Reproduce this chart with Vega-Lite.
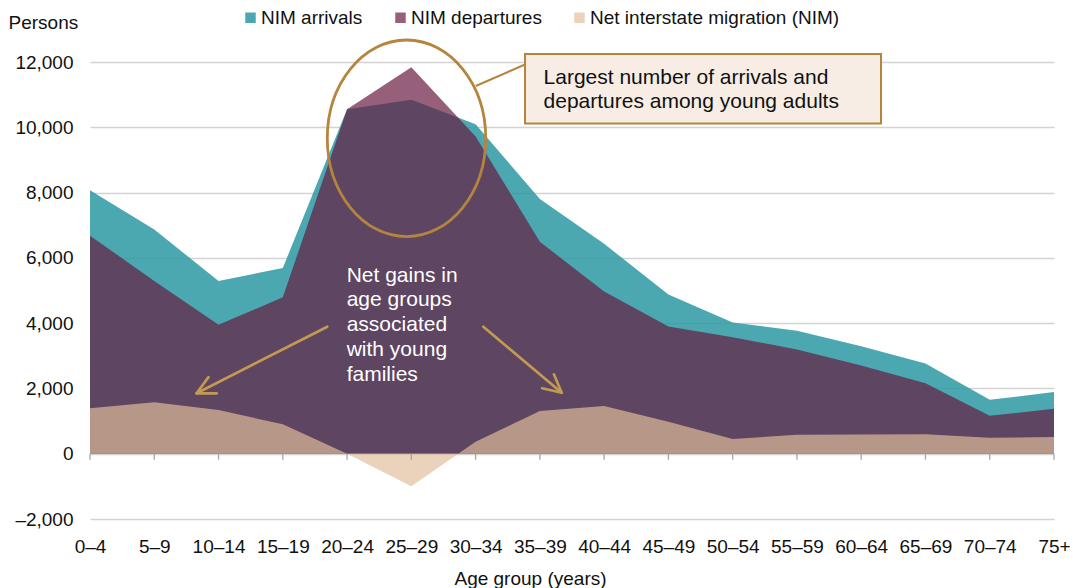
{
  "$schema": "https://vega.github.io/schema/vega-lite/v6.json",
  "width": 964,
  "height": 457,
  "autosize": {"type": "none"},
  "padding": {"left": 90, "top": 62, "right": 19, "bottom": 69},
  "config": {
    "font": "Liberation Sans",
    "view": {"stroke": null},
    "axis": {"labelColor": "#111111", "titleColor": "#111111", "titleFontWeight": "normal"}
  },
  "datasets": {
    "nim": [
      {"i": 0, "age": "0–4", "arrivals": 8070, "departures": 6680, "net": 1390},
      {"i": 1, "age": "5–9", "arrivals": 6870, "departures": 5290, "net": 1580},
      {"i": 2, "age": "10–14", "arrivals": 5290, "departures": 3950, "net": 1340},
      {"i": 3, "age": "15–19", "arrivals": 5690, "departures": 4790, "net": 900},
      {"i": 4, "age": "20–24", "arrivals": 10550, "departures": 10550, "net": 0},
      {"i": 5, "age": "25–29", "arrivals": 10840, "departures": 11840, "net": -1000},
      {"i": 6, "age": "30–34", "arrivals": 10090, "departures": 9720, "net": 370},
      {"i": 7, "age": "35–39", "arrivals": 7800, "departures": 6490, "net": 1310},
      {"i": 8, "age": "40–44", "arrivals": 6430, "departures": 4970, "net": 1460},
      {"i": 9, "age": "45–49", "arrivals": 4880, "departures": 3900, "net": 980},
      {"i": 10, "age": "50–54", "arrivals": 4020, "departures": 3570, "net": 450},
      {"i": 11, "age": "55–59", "arrivals": 3770, "departures": 3190, "net": 580},
      {"i": 12, "age": "60–64", "arrivals": 3290, "departures": 2700, "net": 590},
      {"i": 13, "age": "65–69", "arrivals": 2760, "departures": 2160, "net": 600},
      {"i": 14, "age": "70–74", "arrivals": 1650, "departures": 1160, "net": 490},
      {"i": 15, "age": "75+", "arrivals": 1890, "departures": 1380, "net": 510}
    ],
    "ellipse": [{"x": 4.925, "y": 9663}],
    "callout": [{"x": 6.769, "y": 12245, "x2": 12.308, "y2": 10116}],
    "calloutText": [{"x": 7.057, "y": 11326, "lines": ["Largest number of arrivals and", "departures among young adults"]}],
    "leader": [{"x": 6.002, "y": 11265, "x2": 6.769, "y2": 11923}],
    "arrows": [
      {"x": 3.692, "y": 3891, "x2": 1.66, "y2": 1851},
      {"x": 1.66, "y": 1851, "x2": 1.844, "y2": 2347},
      {"x": 1.66, "y": 1851, "x2": 1.972, "y2": 1851},
      {"x": 6.12, "y": 3891, "x2": 7.34, "y2": 1869},
      {"x": 7.34, "y": 1869, "x2": 7.036, "y2": 2007},
      {"x": 7.34, "y": 1869, "x2": 7.218, "y2": 2433}
    ],
    "note": [{"x": 3.994, "y": 5269, "lines": ["Net gains in", "age groups", "associated", "with young", "families"]}]
  },
  "layer": [
    {
      "data": {"name": "nim"},
      "mark": {"type": "area"},
      "encoding": {
        "x": {
          "field": "i", "type": "quantitative",
          "scale": {"domain": [0, 15], "nice": false, "zero": false},
          "axis": {
            "title": "Age group (years)",
            "values": [0, 1, 2, 3, 4, 5, 6, 7, 8, 9, 10, 11, 12, 13, 14, 15],
            "labelExpr": "['0–4','5–9','10–14','15–19','20–24','25–29','30–34','35–39','40–44','45–49','50–54','55–59','60–64','65–69','70–74','75+'][datum.value]",
            "labelAngle": 0, "domain": false, "ticks": false, "grid": false,
            "labelFontSize": 19, "labelPadding": 18, "labelOverlap": false, "labelBound": false, "labelFlush": false,
            "titleFontSize": 19, "titleX": 440, "titleY": 59, "titleBaseline": "middle", "titleAlign": "center"
          }
        },
        "y": {
          "field": "arrivals", "type": "quantitative",
          "scale": {"domain": [-2000, 12000], "nice": false},
          "axis": {
            "title": "Persons", "titleAngle": 0, "titleAlign": "left", "titleBaseline": "middle",
            "titleX": -82, "titleY": -40, "titleFontSize": 19,
            "values": [-2000, 0, 2000, 4000, 6000, 8000, 10000, 12000],
            "labelExpr": "datum.value < 0 ? '–' + format(-datum.value, ',') : format(datum.value, ',')",
            "domain": false, "ticks": false, "labelFontSize": 19, "labelPadding": 17,
            "grid": true, "gridColor": "#D3D3D3", "gridWidth": 1.3
          }
        },
        "y2": {"datum": 0},
        "color": {
          "datum": "NIM arrivals", "type": "nominal",
          "scale": {
            "domain": ["NIM arrivals", "NIM departures", "Net interstate migration (NIM)"],
            "range": ["rgba(43,153,162,0.85)", "rgba(103,25,63,0.69)", "rgba(225,190,155,0.68)"]
          },
          "legend": {
            "orient": "none", "legendX": 151, "legendY": -54, "direction": "horizontal", "title": null,
            "padding": 0, "symbolType": "square", "symbolSize": 110, "symbolStrokeWidth": 0,
            "labelFontSize": 19, "labelOffset": 1, "columnPadding": 28, "labelColor": "#111111", "labelLimit": 0
          }
        }
      }
    },
    {
      "data": {"name": "nim"},
      "mark": {"type": "area"},
      "encoding": {
        "x": {"field": "i", "type": "quantitative"},
        "y": {"field": "departures", "type": "quantitative"},
        "y2": {"datum": 0},
        "color": {"datum": "NIM departures", "type": "nominal"}
      }
    },
    {
      "data": {"name": "nim"},
      "mark": {"type": "area"},
      "encoding": {
        "x": {"field": "i", "type": "quantitative"},
        "y": {"field": "net", "type": "quantitative"},
        "y2": {"datum": 0},
        "color": {"datum": "Net interstate migration (NIM)", "type": "nominal"}
      }
    },
    {
      "mark": {"type": "rule", "color": "#A6A6A6", "strokeWidth": 1.5},
      "encoding": {"y": {"datum": 0, "type": "quantitative"}}
    },
    {
      "data": {"name": "nim"},
      "mark": {"type": "tick", "orient": "vertical", "color": "#A6A6A6", "size": 6, "thickness": 1.3, "yOffset": 3, "opacity": 1},
      "encoding": {
        "x": {"field": "i", "type": "quantitative"},
        "y": {"datum": 0, "type": "quantitative"}
      }
    },
    {
      "data": {"name": "ellipse"},
      "mark": {
        "type": "point", "filled": false, "opacity": 1,
        "shape": "M 0 -1 C 0.445 -1 0.806 -0.552 0.806 0 C 0.806 0.552 0.445 1 0 1 C -0.445 1 -0.806 0.552 -0.806 0 C -0.806 -0.552 -0.445 -1 0 -1 Z",
        "size": 38652, "stroke": "#B5853E", "strokeWidth": 2.8
      },
      "encoding": {
        "x": {"field": "x", "type": "quantitative"},
        "y": {"field": "y", "type": "quantitative"}
      }
    },
    {
      "data": {"name": "leader"},
      "mark": {"type": "rule", "color": "#B5853E", "strokeWidth": 2},
      "encoding": {
        "x": {"field": "x", "type": "quantitative"},
        "y": {"field": "y", "type": "quantitative"},
        "x2": {"field": "x2"},
        "y2": {"field": "y2"}
      }
    },
    {
      "data": {"name": "callout"},
      "mark": {"type": "rect", "fill": "#F7EDE4", "stroke": "#B5853E", "strokeWidth": 2},
      "encoding": {
        "x": {"field": "x", "type": "quantitative"},
        "y": {"field": "y", "type": "quantitative"},
        "x2": {"field": "x2"},
        "y2": {"field": "y2"}
      }
    },
    {
      "data": {"name": "calloutText"},
      "mark": {"type": "text", "align": "left", "baseline": "alphabetic", "fontSize": 21, "lineHeight": 24, "color": "#111111"},
      "encoding": {
        "x": {"field": "x", "type": "quantitative"},
        "y": {"field": "y", "type": "quantitative"},
        "text": {"field": "lines"}
      }
    },
    {
      "data": {"name": "arrows"},
      "mark": {"type": "rule", "color": "#C39A52", "strokeWidth": 2.7, "strokeCap": "round"},
      "encoding": {
        "x": {"field": "x", "type": "quantitative"},
        "y": {"field": "y", "type": "quantitative"},
        "x2": {"field": "x2"},
        "y2": {"field": "y2"}
      }
    },
    {
      "data": {"name": "note"},
      "mark": {"type": "text", "align": "left", "baseline": "alphabetic", "fontSize": 21, "lineHeight": 24.7, "color": "#FFFFFF"},
      "encoding": {
        "x": {"field": "x", "type": "quantitative"},
        "y": {"field": "y", "type": "quantitative"},
        "text": {"field": "lines"}
      }
    }
  ]
}
